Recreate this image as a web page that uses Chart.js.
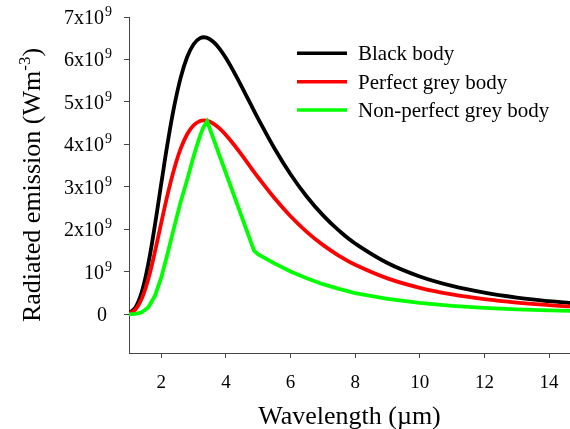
<!DOCTYPE html>
<html>
<head>
<meta charset="utf-8">
<script src="https://cdn.jsdelivr.net/npm/chart.js@4.4.1/dist/chart.umd.min.js"></script>
<style>
  html, body { margin: 0; padding: 0; background: #fff; }
  #wrap { width: 570px; height: 429px; }
</style>
</head>
<body>
<div id="wrap"><canvas id="chart"></canvas></div>
<script>
// wavelength in um, emission in units of 10^9 W m^-3
const wavelengths = [1.0, 1.2, 1.4, 1.6, 1.8, 2.0, 2.2, 2.4, 2.6, 2.8, 3.0, 3.2, 3.4, 3.6, 3.8, 4.0,
  4.25, 4.5, 4.75, 5.0, 5.5, 6, 6.5, 7, 7.5, 8, 9, 10, 11, 12, 13, 14, 14.7];
const blackBody = [0.026, 0.163, 0.537, 1.200, 2.091, 3.085, 4.053, 4.899, 5.573, 6.057, 6.359, 6.503, 6.515, 6.424, 6.256, 6.032,
  5.703, 5.343, 4.971, 4.603, 3.910, 3.298, 2.775, 2.336, 1.970, 1.668, 1.209, 0.892, 0.669, 0.510, 0.395, 0.310, 0.264];
const perfectGrey = [0.018, 0.114, 0.376, 0.840, 1.464, 2.159, 2.837, 3.429, 3.901, 4.240, 4.451, 4.552, 4.561, 4.497, 4.379, 4.223,
  3.992, 3.740, 3.480, 3.222, 2.737, 2.308, 1.942, 1.635, 1.379, 1.167, 0.846, 0.624, 0.468, 0.357, 0.276, 0.217, 0.184];
const greyWavelengths = [1.0, 1.2, 1.4, 1.6, 1.8, 2.0, 2.2, 2.4, 2.6, 2.8, 3.0, 3.1, 3.2, 3.3, 3.42, 4.87,
  5.0, 5.5, 6, 6.5, 7, 7.5, 8, 9, 10, 11, 12, 13, 14, 14.7];
const nonPerfectGrey = [0.0, 0.01, 0.05, 0.17, 0.43, 0.87, 1.45, 2.06, 2.65, 3.17, 3.72, 3.97, 4.2, 4.4, 4.54, 1.5,
  1.41, 1.2, 1.01, 0.85, 0.71, 0.6, 0.5, 0.365, 0.27, 0.2, 0.153, 0.118, 0.093, 0.079];
const xTicks = [2, 4, 6, 8, 10, 12, 14];
const yTicks = [0, 1, 2, 3, 4, 5, 6, 7];

const serif = "'Liberation Serif', 'Times New Roman', serif";
const axisColor = "#444";

const pts = (xs, ys) => xs.map((x, i) => ({ x, y: ys[i] }));

const series = [
  { label: "Black body", color: "#000000", data: pts(wavelengths, blackBody), order: 3, tension: 0.4 },
  { label: "Perfect grey body", color: "#ff0000", data: pts(wavelengths, perfectGrey), order: 2, tension: 0.4 },
  { label: "Non-perfect grey body", color: "#00ff00", data: pts(greyWavelengths, nonPerfectGrey), order: 1, tension: 0 },
];

// y tick labels with superscript exponents, y title, and the legend box
const extras = {
  id: "extras",
  afterDraw(chart) {
    const { ctx, scales } = chart;
    const y = scales.y;
    ctx.save();
    ctx.fillStyle = "#000";
    ctx.textBaseline = "alphabetic";
    for (const v of yTicks) {
      const py = y.getPixelForValue(v);
      const base = py + 7;
      ctx.font = "20px " + serif;
      ctx.textAlign = "right";
      if (v === 0) {
        ctx.fillText("0", 107, base);
        continue;
      }
      const main = v === 1 ? "10" : v + "x10";
      ctx.fillText(main, 104, base);
      ctx.font = "14px " + serif;
      ctx.textAlign = "left";
      ctx.fillText("9", 105, base - 8);
    }

    // y title
    ctx.save();
    ctx.translate(30, (chart.chartArea.top + chart.chartArea.bottom) / 2);
    ctx.rotate(-Math.PI / 2);
    ctx.font = "26px " + serif;
    const t1 = "Radiated emission (Wm";
    const t3 = ")";
    const w1 = ctx.measureText(t1).width;
    const w3 = ctx.measureText(t3).width;
    ctx.font = "17px " + serif;
    const t2 = "-3";
    const w2 = ctx.measureText(t2).width;
    const sx = -(w1 + w2 + w3) / 2;
    ctx.textAlign = "left";
    ctx.font = "26px " + serif;
    ctx.fillText(t1, sx, 10);
    ctx.font = "17px " + serif;
    ctx.fillText(t2, sx + w1, 0);
    ctx.font = "26px " + serif;
    ctx.fillText(t3, sx + w1 + w2, 10);
    ctx.restore();

    // legend
    const legY = [53.3, 81.7, 110];
    series.forEach((s, i) => {
      ctx.strokeStyle = s.color;
      ctx.lineWidth = 3.5;
      ctx.beginPath();
      ctx.moveTo(297, legY[i]);
      ctx.lineTo(347, legY[i]);
      ctx.stroke();
      ctx.fillStyle = "#000";
      ctx.font = "21px " + serif;
      ctx.textAlign = "left";
      ctx.fillText(s.label, 358, legY[i] + 7);
    });
    ctx.restore();
  },
};

new Chart(document.getElementById("chart"), {
  type: "line",
  data: {
    datasets: series.map((s) => ({
      label: s.label,
      data: s.data,
      borderColor: s.color,
      backgroundColor: s.color,
      borderWidth: 3.8,
      pointRadius: 0,
      fill: false,
      order: s.order,
      tension: s.tension,
    })),
  },
  options: {
    responsive: true,
    maintainAspectRatio: false,
    animation: false,
    layout: { padding: { left: 0, right: 0, top: 17, bottom: 0 } },
    plugins: { legend: { display: false }, tooltip: { enabled: false } },
    scales: {
      x: {
        type: "linear",
        min: 1,
        max: 14.65,
        afterBuildTicks: (s) => { s.ticks = xTicks.map((value) => ({ value })); },
        afterFit: (s) => { s.height = 76; s.paddingLeft = 0; s.paddingRight = 0; },
        grid: { display: true, drawOnChartArea: false, drawTicks: true, tickLength: 5, color: axisColor },
        border: { display: true, color: axisColor, width: 1 },
        ticks: { color: "#000", font: { family: serif, size: 19 }, padding: 14, maxRotation: 0 },
        title: { display: true, text: "Wavelength (\u00b5m)", color: "#000", font: { family: serif, size: 26, lineHeight: 0.9 }, padding: { top: 0, bottom: 0 } },
      },
      y: {
        type: "linear",
        min: -0.91,
        max: 7,
        afterBuildTicks: (s) => { s.ticks = yTicks.map((value) => ({ value })); },
        afterFit: (s) => { s.width = 129; },
        grid: { display: true, drawOnChartArea: false, drawTicks: true, tickLength: 5, color: axisColor },
        border: { display: true, color: axisColor, width: 1 },
        ticks: { display: false },
      },
    },
  },
  plugins: [extras],
});
</script>
</body>
</html>
